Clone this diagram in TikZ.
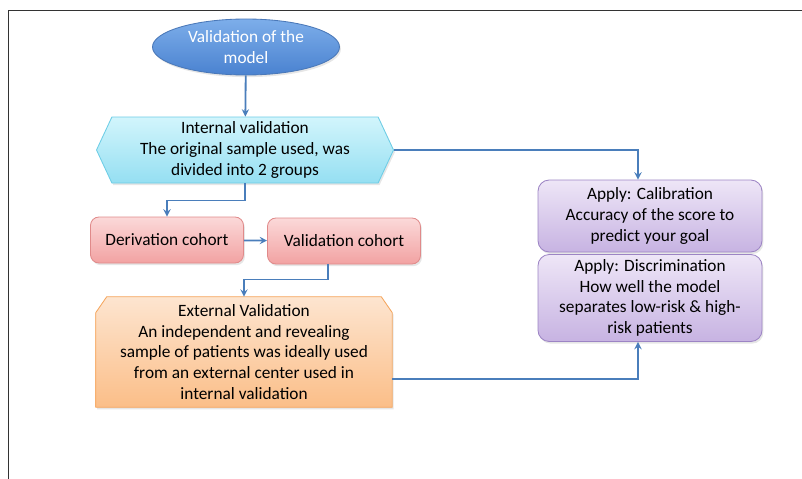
\documentclass[tikz,border=0pt]{standalone}
\usepackage{fontspec}
\setmainfont{Carlito}
\usepackage{xcolor}
\usetikzlibrary{shapes,arrows,positioning,calc,shadows,backgrounds}

\definecolor{linkblue}{HTML}{4A7EBB}
\definecolor{ovaltop}{HTML}{7DAEEA}
\definecolor{ovalbot}{HTML}{4A82D0}
\definecolor{ovaledge}{HTML}{4A78B8}
\definecolor{hextop}{HTML}{D2F5FC}
\definecolor{hexbot}{HTML}{95DFF2}
\definecolor{hexedge}{HTML}{6CCDE6}
\definecolor{pinktop}{HTML}{FBD9D9}
\definecolor{pinkbot}{HTML}{F2A2A2}
\definecolor{pinkedge}{HTML}{E08A8A}
\definecolor{lilactop}{HTML}{EEE6F7}
\definecolor{lilacbot}{HTML}{C7B3E2}
\definecolor{lilacedge}{HTML}{9C84C4}
\definecolor{orngtop}{HTML}{FDE5D0}
\definecolor{orngbot}{HTML}{FBBE88}
\definecolor{orngedge}{HTML}{F5A65E}

\newlength\pxu
\setlength\pxu{0.025cm}

\begin{document}
\begin{tikzpicture}[x=0.025cm, y=-0.025cm,
  font=\fontsize{12.3}{14.6}\selectfont,
  shade/.style={drop shadow={shadow xshift=1pt, shadow yshift=-1.5pt, opacity=0.2}},
  oval/.style={ellipse, draw=ovaledge, top color=ovaltop, bottom color=ovalbot,
               text=white, align=center, inner sep=0pt, line width=0.6pt,
               minimum width=187\pxu, minimum height=56\pxu, shade},
  hexa/.style={signal, signal to=east and west, signal pointer angle=130,
               draw=hexedge, top color=hextop, bottom color=hexbot,
               align=center, inner sep=0pt, line width=0.6pt,
               minimum width=297\pxu, minimum height=66\pxu, shade},
  cohort/.style={rectangle, rounded corners=6pt, draw=pinkedge,
                 top color=pinktop, bottom color=pinkbot, line width=0.6pt,
                 minimum width=153\pxu, minimum height=46\pxu, shade},
  applybox/.style={rectangle, rounded corners=8pt, draw=lilacedge,
                   top color=lilactop, bottom color=lilacbot, line width=0.6pt,
                   align=center, inner sep=0pt, minimum width=224\pxu, shade},
  extbox/.style={rectangle, align=center, inner sep=0pt,
                 minimum width=296\pxu, minimum height=110\pxu},
  extfill/.style={draw=orngedge, top color=orngtop, bottom color=orngbot,
                  line width=0.6pt, shade},
  arr/.style={->, >=stealth, draw=linkblue, line width=1.3pt}
]
\useasboundingbox (0,0) rectangle (802,479);
% outer frame
\draw[line width=0.7pt, black!80] (8,479) -- (8,10) -- (802,10);

\node[oval]     (model) at (246,47)  {Validation of the\\model};
\node[hexa]     (intv)  at (245,150) {Internal validation\\The original sample used, was\\divided into 2 groups};
\node[cohort]   (deriv) at (167,240) {Derivation cohort};
\node[cohort]   (valc)  at (344,241) {Validation cohort};
\node[extbox]   (ext)   at (244,352) {External Validation\\An independent and revealing\\sample of patients was ideally used\\from an external center used in\\internal validation};
\node[applybox, minimum height=72\pxu] (calib) at (650,216)
  {Apply: Calibration\\Accuracy of the score to\\predict your goal};
\node[applybox, minimum height=87\pxu] (discr) at (650,298)
  {Apply: Discrimination\\How well the model\\separates low-risk \& high-\\risk patients};

% box with the two upper corners cut off
\begin{scope}[on background layer]
  \path[extfill] ($(ext.north west)+(11,0)$) -- ($(ext.north east)+(-11,0)$)
    -- ($(ext.north east)+(0,16)$) -- (ext.south east) -- (ext.south west)
    -- ($(ext.north west)+(0,16)$) -- cycle;
\end{scope}

\draw[arr] (model) -- (intv);
\draw[arr] (intv.east) -| ($(calib.north)+(-12,0)$);
\draw[arr] (intv.south) -- ++(0,17) -| (deriv.north);
\draw[arr] (deriv) -- (valc);
\draw[arr] ($(valc.south)+(-16,0)$) -- ++(0,15) -| (ext.north);
\draw[arr] ($(ext.east)+(0,27)$) -| ($(discr.south)+(-12,0)$);
\end{tikzpicture}
\end{document}
